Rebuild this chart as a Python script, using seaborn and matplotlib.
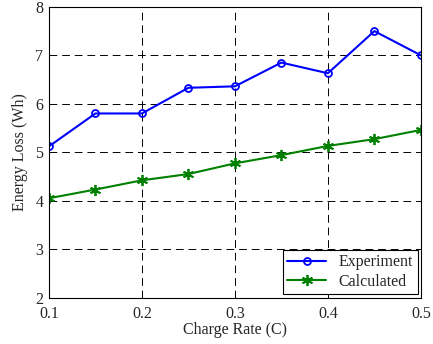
import matplotlib
matplotlib.use("Agg")
import matplotlib.pyplot as plt
import seaborn as sns
import pandas as pd

# data
charge_rate = [0.1, 0.15, 0.2, 0.25, 0.3, 0.35, 0.4, 0.45, 0.5]
experiment = [5.12, 5.80, 5.80, 6.33, 6.36, 6.85, 6.63, 7.50, 7.00]
calculated = [4.05, 4.23, 4.42, 4.55, 4.77, 4.94, 5.13, 5.27, 5.46]

df = pd.DataFrame({"rate": charge_rate, "Experiment": experiment, "Calculated": calculated})

sns.set_style("white")
plt.rcParams["font.family"] = ["Liberation Serif", "DejaVu Serif"]

fig, ax = plt.subplots(figsize=(4.33, 3.44), dpi=100)

sns.lineplot(data=df, x="rate", y="Experiment", ax=ax, color="#0000ff", marker="o",
             markersize=5, markerfacecolor="none", markeredgecolor="#0000ff",
             markeredgewidth=1.3, linewidth=1.5, label="Experiment")
sns.lineplot(data=df, x="rate", y="Calculated", ax=ax, color="#008000", marker=(6, 2, 0),
             markersize=8, markeredgecolor="#008000", markeredgewidth=1.3,
             linewidth=1.5, label="Calculated")

ax.set_xlim(0.1, 0.5)
ax.set_ylim(2, 8)
ax.set_xticks([0.1, 0.2, 0.3, 0.4, 0.5])
ax.set_xticklabels(["0.1", "0.2", "0.3", "0.4", "0.5"])
ax.set_yticks([2, 3, 4, 5, 6, 7, 8])
ax.grid(True, color="black", linestyle=(0, (8, 5)), linewidth=0.7)
ax.tick_params(direction="in", labelsize=11.5, length=4, pad=4)
ax.tick_params(axis="x", pad=6)
for s in ax.spines.values():
    s.set_color("black")
    s.set_linewidth(0.8)

ax.set_xlabel("Charge Rate (C)", fontsize=11.5, labelpad=0)
ax.set_ylabel("Energy Loss (Wh)", fontsize=11.5, labelpad=5)

leg = ax.legend(loc="lower right", fontsize=11.5, frameon=True, fancybox=False,
                framealpha=1, edgecolor="black", borderaxespad=0.2,
                handlelength=2.4, borderpad=0.3, labelspacing=0.2)
leg.get_frame().set_linewidth(0.8)

fig.subplots_adjust(left=0.113, right=0.972, top=0.98, bottom=0.135)
fig.savefig("out.png", dpi=100)
